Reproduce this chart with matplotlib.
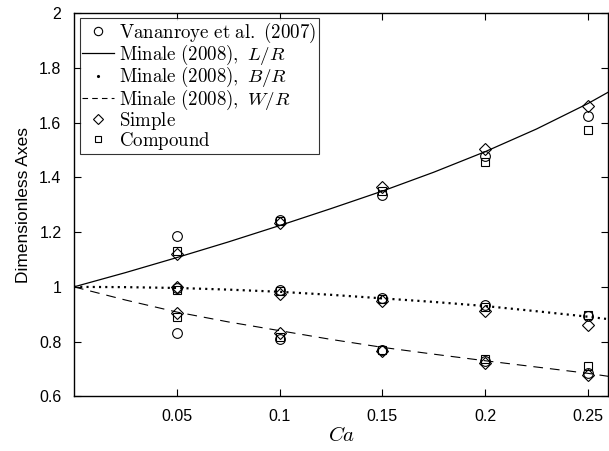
import matplotlib
matplotlib.use("Agg")
import matplotlib.pyplot as plt
from matplotlib.lines import Line2D

plt.rcParams['mathtext.fontset'] = 'cm'
plt.rcParams['lines.scale_dashes'] = False

# Experimental / simulation points
ca_pts = [0.05, 0.1, 0.15, 0.2, 0.25]
vananroye_L = [1.185, 1.245, 1.335, 1.48, 1.625]
vananroye_B = [0.995, 0.99, 0.96, 0.935, 0.893]
vananroye_W = [0.833, 0.81, 0.77, 0.73, 0.686]
simple_L = [1.12, 1.235, 1.365, 1.505, 1.66]
simple_B = [1.0, 0.975, 0.95, 0.91, 0.86]
simple_W = [0.905, 0.83, 0.765, 0.72, 0.678]
compound_L = [1.13, 1.24, 1.35, 1.458, 1.573]
compound_B = [0.99, 0.985, 0.955, 0.925, 0.897]
compound_W = [0.89, 0.815, 0.77, 0.735, 0.712]

# Minale (2008) model curves
ca_curve = [0.0, 0.025, 0.05, 0.075, 0.1, 0.125, 0.15, 0.175, 0.2, 0.225, 0.25, 0.26]
minale_L = [1.0, 1.052, 1.107, 1.164, 1.224, 1.286, 1.35, 1.419, 1.494, 1.577, 1.67, 1.712]
minale_B = [1.0, 0.999, 0.996, 0.99, 0.982, 0.971, 0.958, 0.945, 0.93, 0.911, 0.891, 0.882]
minale_W = [1.0, 0.952, 0.908, 0.872, 0.84, 0.808, 0.779, 0.754, 0.73, 0.707, 0.684, 0.673]

x_ticks = [0.05, 0.1, 0.15, 0.2, 0.25]
x_ticklabels = ['0.05', '0.1', '0.15', '0.2', '0.25']
y_ticks = [0.6, 0.8, 1.0, 1.2, 1.4, 1.6, 1.8, 2.0]
y_ticklabels = ['0.6', '0.8', '1', '1.2', '1.4', '1.6', '1.8', '2']

fig = plt.figure(figsize=(6.09, 4.51), dpi=100)
ax = fig.add_axes([0.1215, 0.1213, 0.8775, 0.8492])

lw = 0.9
ms_c = 7
ms_d = 6
ms_s = 5.5

# curves
ax.plot(ca_curve, minale_L, color='k', lw=lw, zorder=2)
ax.plot(ca_curve, minale_B, color='k', lw=1.6, linestyle=(0, (1.5, 3.0)), zorder=2)
ax.plot(ca_curve, minale_W, color='k', lw=0.8, linestyle=(0, (7, 5)), zorder=2)

mk = dict(ls='none', mfc='none', mec='k', mew=0.8, zorder=3)
for ys in (vananroye_L, vananroye_B, vananroye_W):
    ax.plot(ca_pts, ys, marker='o', ms=ms_c, **mk)
for ys in (simple_L, simple_B, simple_W):
    ax.plot(ca_pts, ys, marker='D', ms=ms_d, **mk)
for ys in (compound_L, compound_B, compound_W):
    ax.plot(ca_pts, ys, marker='s', ms=ms_s, **mk)

ax.set_xlim(0, 0.26)
ax.set_ylim(0.6, 2.0)
ax.set_xticks(x_ticks)
ax.set_xticklabels(x_ticklabels)
ax.set_yticks(y_ticks)
ax.set_yticklabels(y_ticklabels)
ax.tick_params(direction='in', top=True, right=True, length=5, width=0.8,
               labelsize=11.5, pad=9)
for lab in ax.get_xticklabels() + ax.get_yticklabels():
    lab.set_family('Liberation Sans')
for sp in ax.spines.values():
    sp.set_linewidth(1.0)

ax.set_xlabel('$Ca$', fontsize=15, labelpad=1)
ax.set_ylabel('Dimensionless Axes', fontsize=12.5, family='Liberation Sans', labelpad=6)

handles = [
    Line2D([], [], ls='none', marker='o', ms=ms_c - 1, mfc='none', mec='k', mew=0.8),
    Line2D([], [], color='k', lw=lw),
    Line2D([], [], ls='none', marker='.', ms=2.5, color='k'),
    Line2D([], [], color='k', lw=0.8, linestyle=(0, (4, 3))),
    Line2D([], [], ls='none', marker='D', ms=ms_d - 1, mfc='none', mec='k', mew=0.8),
    Line2D([], [], ls='none', marker='s', ms=ms_s - 1, mfc='none', mec='k', mew=0.8),
]
labels = [
    r'$\mathrm{Vananroye\ et\ al.\ (2007)}$',
    r'$\mathrm{Minale\ (2008),}\ L/R$',
    r'$\mathrm{Minale\ (2008),}\ B/R$',
    r'$\mathrm{Minale\ (2008),}\ W/R$',
    r'$\mathrm{Simple}$',
    r'$\mathrm{Compound}$',
]
leg = ax.legend(handles, labels, loc='upper left', bbox_to_anchor=(0.0112, 0.9875),
                fontsize=13.6, frameon=True, fancybox=False, edgecolor='k',
                handlelength=1.7, handletextpad=0.25, labelspacing=-0.1,
                borderpad=0.12, borderaxespad=0.0)
leg.get_frame().set_linewidth(0.8)

fig.savefig('out.png', dpi=100)
